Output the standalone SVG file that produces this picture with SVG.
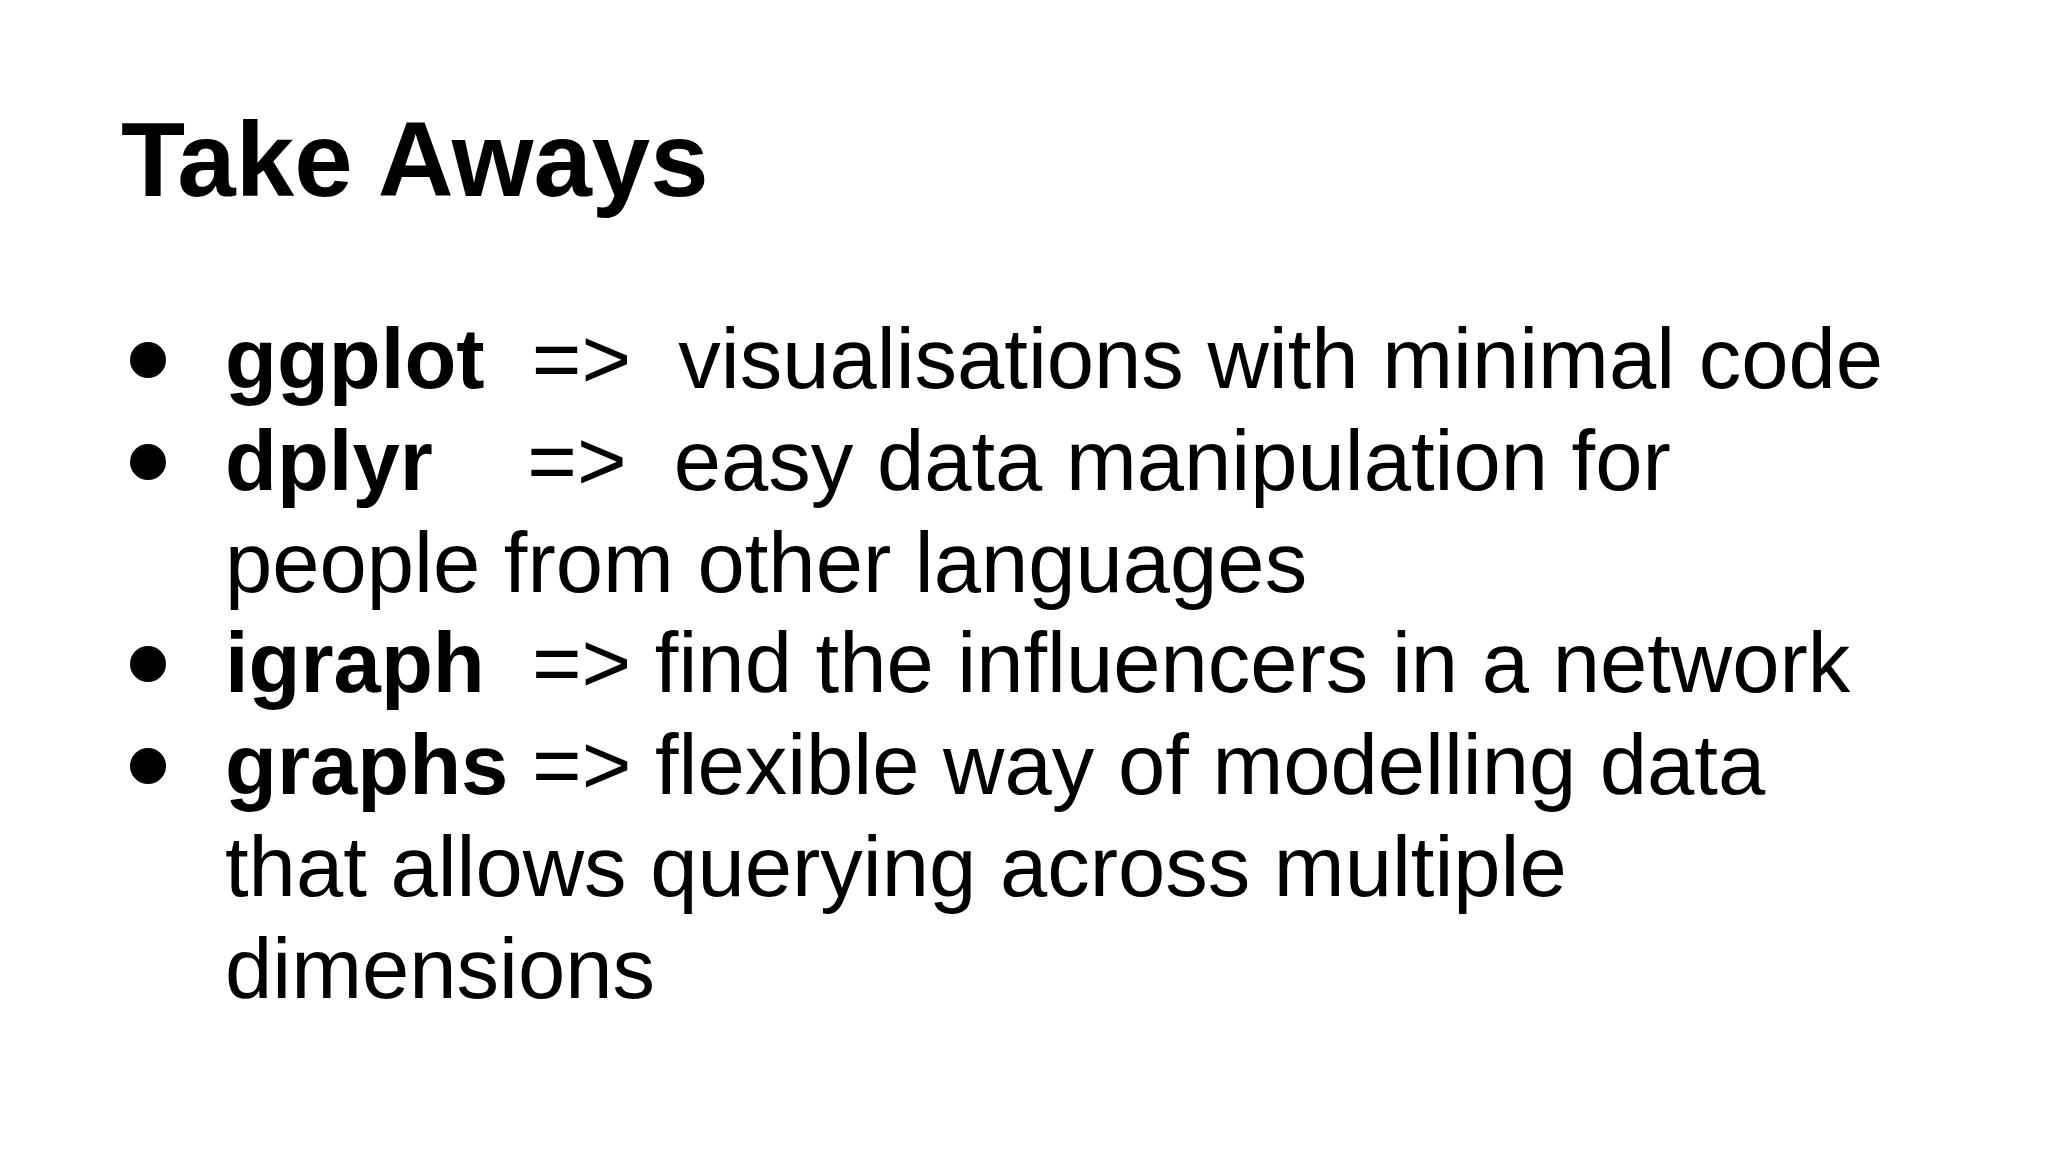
<svg xmlns="http://www.w3.org/2000/svg" width="2048" height="1152" viewBox="0 0 2048 1152">
<style>
text{font-family:"Liberation Sans",Arial,sans-serif;fill:#000;white-space:pre}
.t{font-size:105px;font-weight:bold}
.b{font-size:85px}
.k{font-weight:bold}
</style>
<rect width="2048" height="1152" fill="#fff"/>
<g id="title"><text class="t" x="121" y="196">Take Aways</text></g>
<g id="bullets">
<circle cx="148" cy="360" r="18"/>
<circle cx="148" cy="462" r="18"/>
<circle cx="148" cy="664" r="18"/>
<circle cx="148" cy="766" r="18"/>
</g>
<g id="items">
<text class="b" x="225" y="388" xml:space="preserve"><tspan class="k">ggplot</tspan>  =&gt;  visualisations with minimal code</text>
<text class="b" x="225" y="490" xml:space="preserve"><tspan class="k">dplyr</tspan>    =&gt;  easy data manipulation for</text>
<text class="b" x="225" y="592">people from other languages</text>
<text class="b" x="225" y="692" xml:space="preserve"><tspan class="k">igraph</tspan>  =&gt; find the influencers in a network</text>
<text class="b" x="225" y="794" xml:space="preserve"><tspan class="k">graphs</tspan> =&gt; flexible way of modelling data</text>
<text class="b" x="225" y="896">that allows querying across multiple</text>
<text class="b" x="225" y="998">dimensions</text>
</g>
</svg>
